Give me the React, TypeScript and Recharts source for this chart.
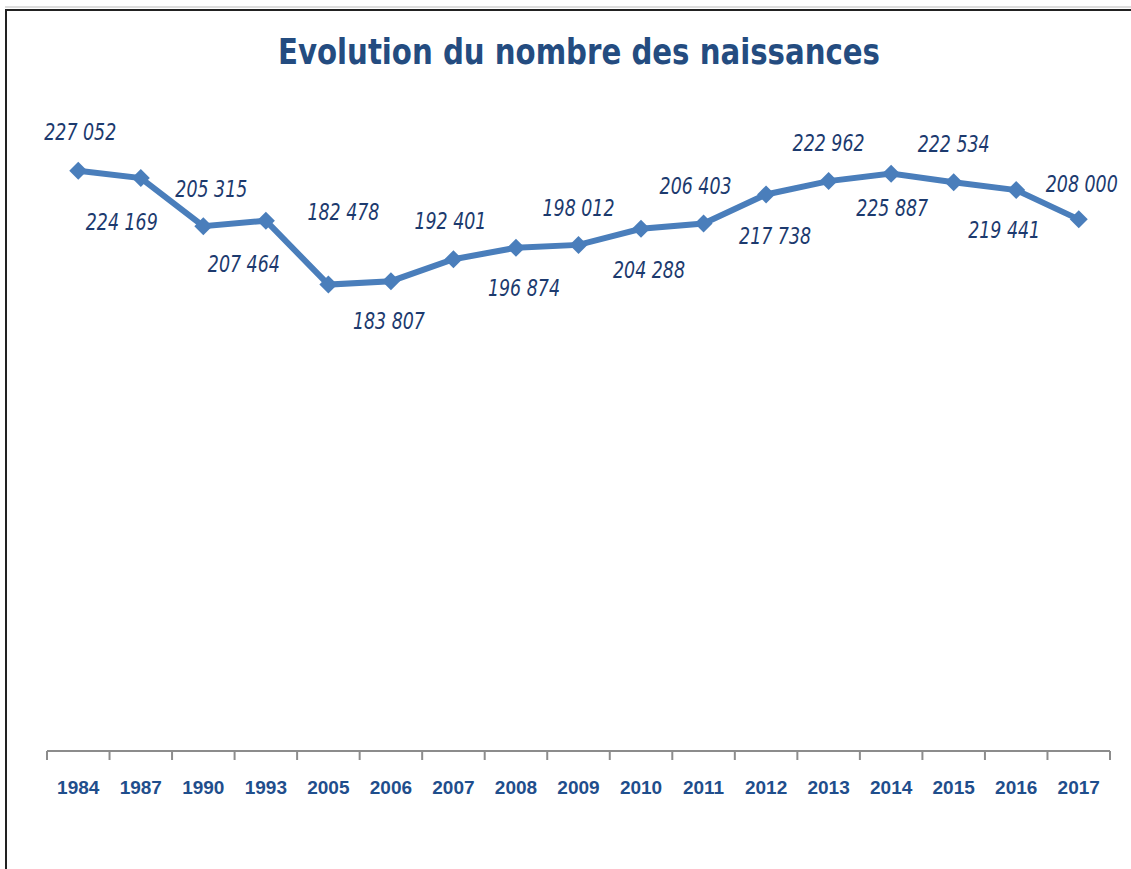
import { Line, LineChart, XAxis, YAxis, LabelList } from "recharts";

const years = ["1984", "1987", "1990", "1993", "2005", "2006", "2007", "2008", "2009", "2010", "2011", "2012", "2013", "2014", "2015", "2016", "2017"];
const births = [227052, 224169, 205315, 207464, 182478, 183807, 192401, 196874, 198012, 204288, 206403, 217738, 222962, 225887, 222534, 219441, 208000];

// label placement relative to each point (dx, dy to text centre)
const labelOffsets = [
  [2, -39], [-19, 44], [8, -37], [-22, 43], [15, -73], [-2, 40], [-3, -39], [8, 40], [0, -37],
  [8, 41], [-8, -38], [9, 41], [0, -38], [1, 34], [0, -38], [-12, 40], [3, -36],
];

const W = 1131;
const H = 869;
const LEFT = 47;
const RIGHT = 21;
const BAND = (W - LEFT - RIGHT) / years.length;

const data = years.map((y, i) => ({ year: y, value: births[i] }));

const fmt = (v: number) => {
  const s = String(v);
  return s.slice(0, s.length - 3) + " " + s.slice(-3);
};

const Diamond = (props: any) => {
  const { cx, cy } = props;
  if (cx == null || cy == null) return null;
  const r = 9;
  return <polygon points={`${cx},${cy - r} ${cx + r},${cy} ${cx},${cy + r} ${cx - r},${cy}`} fill="#4A7EBB" />;
};

const ValueLabel = (props: any) => {
  const { x, y, value, index } = props;
  const [dx, dy] = labelOffsets[index] || [0, -38];
  return (
    <text
      x={x + dx}
      y={y + dy}
      dy="0.36em"
      textAnchor="middle"
      fill="#1C3A6E"
      fontStyle="italic"
      fontSize={23}
      textLength={72}
      lengthAdjust="spacingAndGlyphs"
      fontFamily="'DejaVu Sans Condensed', sans-serif"
    >
      {fmt(value)}
    </text>
  );
};

const YearTick = (props: any) => {
  const { x, y, payload, index } = props;
  return (
    <g>
      <line x1={x - BAND / 2} y1={y - 8} x2={x - BAND / 2} y2={y + 1} stroke="#8C8C8C" strokeWidth={2} />
      {index === years.length - 1 && (
        <line x1={x + BAND / 2} y1={y - 8} x2={x + BAND / 2} y2={y + 1} stroke="#8C8C8C" strokeWidth={2} />
      )}
      <text
        x={x}
        y={y + 35}
        textAnchor="middle"
        fill="#1F4E8C"
        fontWeight="bold"
        fontSize={19}
        fontFamily="'Liberation Sans', Arial, sans-serif"
      >
        {payload.value}
      </text>
    </g>
  );
};

export default function App() {
  return (
    <div style={{ position: "absolute", left: 0, top: 0, width: W, height: H, overflow: "hidden", background: "#fff" }}>
      <svg width={W} height={H} style={{ position: "absolute", left: 0, top: 0 }}>
        <line x1={5} y1={7} x2={W} y2={7} stroke="#BBBBBB" strokeWidth={1} />
        <line x1={5} y1={10} x2={W} y2={10} stroke="#222" strokeWidth={2} />
        <line x1={6} y1={10} x2={6} y2={H} stroke="#222" strokeWidth={2} />
        <text
          x={579}
          y={64}
          textAnchor="middle"
          fill="#244C80"
          fontWeight="bold"
          fontSize={36}
          textLength={602}
          lengthAdjust="spacingAndGlyphs"
          fontFamily="'DejaVu Sans Condensed', sans-serif"
        >
          Evolution du nombre des naissances
        </text>
      </svg>
      <div style={{ position: "absolute", left: 0, top: 0 }}>
        <LineChart width={W} height={H} data={data} margin={{ top: 112, right: RIGHT, left: LEFT, bottom: 58 }}>
          <XAxis
            dataKey="year"
            scale="band"
            height={60}
            axisLine={{ stroke: "#8C8C8C", strokeWidth: 2 }}
            tickLine={false}
            tick={<YearTick />}
            interval={0}
          />
          <YAxis hide domain={[0, 250000]} />
          <Line
            type="linear"
            dataKey="value"
            stroke="#4A7EBB"
            strokeWidth={6}
            dot={<Diamond />}
            activeDot={false}
            isAnimationActive={false}
          >
            <LabelList dataKey="value" content={<ValueLabel />} />
          </Line>
        </LineChart>
      </div>
    </div>
  );
}
